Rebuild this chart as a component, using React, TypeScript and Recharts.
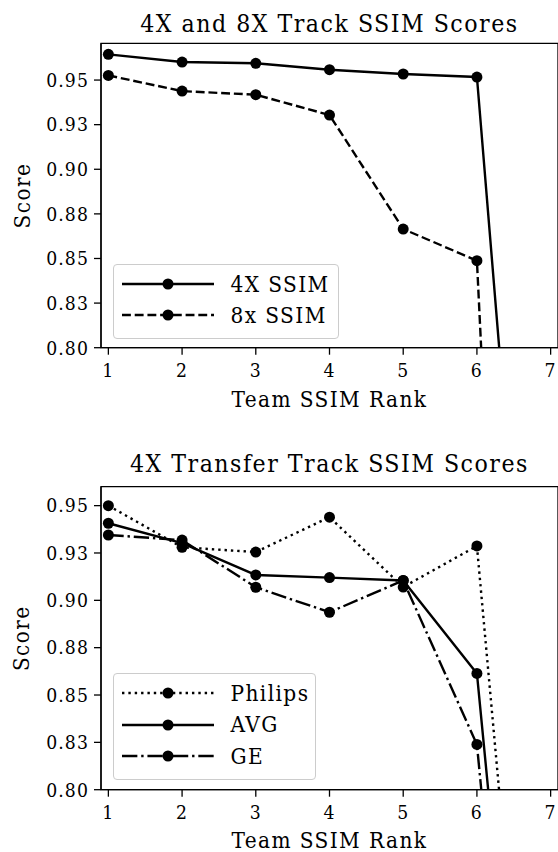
import React from 'react';
import { LineChart, Line, XAxis, YAxis, Legend, ReferenceArea } from 'recharts';

// team rank on the x axis (7th team falls far below the plotted range)
const ranks = [1, 2, 3, 4, 5, 6, 7];
const xTicks = [1, 2, 3, 4, 5, 6, 7];
const yTicks = [0.8, 0.825, 0.85, 0.875, 0.9, 0.925, 0.95];
const yTickLabels = ['0.80', '0.83', '0.85', '0.88', '0.90', '0.93', '0.95'];

// top panel
const ssim4x = [0.9644, 0.9601, 0.9594, 0.9558, 0.9534, 0.9517, 0.45];
const ssim8x = [0.9526, 0.9438, 0.9418, 0.9304, 0.8665, 0.8488, 0.0];

// bottom panel
const philips = [0.95, 0.928, 0.9255, 0.9439, 0.907, 0.9287, 0.5];
const avg = [0.9407, 0.9302, 0.9134, 0.912, 0.9105, 0.8614, 0.46];
const ge = [0.9345, 0.9318, 0.9069, 0.8937, 0.9105, 0.8239, 0.42];

const topData = ranks.map((r, i) => ({ rank: r, s4: ssim4x[i], s8: ssim8x[i] }));
const bottomData = ranks.map((r, i) => ({ rank: r, philips: philips[i], avg: avg[i], ge: ge[i] }));

// only the condensed cut of DejaVu Serif is installed, letter spacing widens it back
const FONT = '"DejaVu Serif Condensed", "Noto Serif", serif';
const TITLE = 24.6;
const TITLE_LS = 1.5;
const BIG = 22.4;
const BIG_LS = 1.4;
const SMALL = 19.2;
const SMALL_LS = 1.1;

const LW = 2.4;
const dashed = `${3.7 * LW} ${1.6 * LW}`;
const dotted = `${1 * LW} ${1.65 * LW}`;
const dashDot = `${6.4 * LW} ${1.6 * LW} ${1 * LW} ${1.6 * LW}`;

const dot = { r: 5.5, fill: '#000', stroke: '#000', strokeWidth: 0 };

type Entry = { name: string; dash?: string };

const makeLegend = (entries: Entry[]) => () => (
  <div
    style={{
      border: '1px solid #cccccc',
      borderRadius: 4,
      background: 'rgba(255,255,255,0.8)',
      padding: '3px 0 7px 0',
      fontFamily: FONT,
      fontSize: BIG,
      letterSpacing: BIG_LS,
      color: '#000',
      boxSizing: 'border-box',
    }}
  >
    {entries.map((e) => (
      <div key={e.name} style={{ display: 'flex', alignItems: 'center', height: 31.5 }}>
        <svg width={108} height={20} style={{ flex: 'none' }}>
          <line x1={8} x2={100} y1={10} y2={10} stroke="#000" strokeWidth={LW} strokeDasharray={e.dash} />
          <circle cx={54} cy={10} r={5.5} fill="#000" />
        </svg>
        <span style={{ marginLeft: 9, lineHeight: 1 }}>{e.name}</span>
      </div>
    ))}
  </div>
);

const tickStyle = { fontFamily: FONT, fontSize: SMALL, fill: '#000', letterSpacing: SMALL_LS };

const XLabel = ({ viewBox, baseline }: any) => (
  <text
    x={viewBox.x + viewBox.width / 2}
    y={baseline}
    textAnchor="middle"
    fontFamily={FONT}
    fontSize={BIG}
    letterSpacing={BIG_LS}
    fill="#000"
  >
    Team SSIM Rank
  </text>
);

const YLabel = ({ viewBox }: any) => {
  const cy = viewBox.y + viewBox.height / 2;
  return (
    <text
      x={21.5}
      y={cy}
      transform={`rotate(-90, 21.5, ${cy})`}
      textAnchor="middle"
      dominantBaseline="central"
      fontFamily={FONT}
      fontSize={BIG}
      letterSpacing={BIG_LS}
      fill="#000"
    >
      Score
    </text>
  );
};

export default function App() {
  return (
    <div style={{ position: 'absolute', left: 0, top: 0, width: 558, height: 852, background: '#fff', overflow: 'hidden' }}>
      <div style={{ position: 'absolute', left: 0, top: 0 }}>
        <LineChart width={558} height={440} data={topData} margin={{ top: 43.3, right: 0, left: 0, bottom: 0 }}>
          <XAxis
            dataKey="rank"
            type="number"
            domain={[0.9, 7.1]}
            ticks={xTicks}
            allowDataOverflow
            height={92.3}
            tick={tickStyle}
            tickSize={7}
            tickMargin={9}
            stroke="#000"
            strokeWidth={1.3}
            label={(p: any) => <XLabel {...p} baseline={406.5} />}
          />
          <YAxis
            type="number"
            domain={[0.8, 0.9706]}
            ticks={yTicks}
            allowDataOverflow
            width={101}
            tick={tickStyle}
            tickSize={7}
            tickMargin={5}
            tickFormatter={(v: number) => yTickLabels[yTicks.indexOf(v)]}
            stroke="#000"
            strokeWidth={1.3}
            label={(p: any) => <YLabel {...p} />}
          />
          <ReferenceArea x1={0.9} x2={7.1} y1={0.8} y2={0.9706} fill="none" stroke="#000" strokeWidth={1.3} />
          <Line dataKey="s4" name="4X SSIM" stroke="#000" strokeWidth={LW} dot={dot} isAnimationActive={false} />
          <Line dataKey="s8" name="8x SSIM" stroke="#000" strokeWidth={LW} strokeDasharray={dashed} dot={dot} isAnimationActive={false} />
          <Legend
            layout="horizontal"
            verticalAlign="middle"
            align="center"
            wrapperStyle={{ left: 112.5, top: 264, width: 226 }}
            content={makeLegend([{ name: '4X SSIM' }, { name: '8x SSIM', dash: dashed }])}
          />
        </LineChart>
      </div>
      <div style={{ position: 'absolute', left: 0, top: 440 }}>
        <LineChart width={558} height={412} data={bottomData} margin={{ top: 46.7, right: 0, left: 0, bottom: 0 }}>
          <XAxis
            dataKey="rank"
            type="number"
            domain={[0.9, 7.1]}
            ticks={xTicks}
            allowDataOverflow
            height={62.3}
            tick={tickStyle}
            tickSize={7}
            tickMargin={9}
            stroke="#000"
            strokeWidth={1.3}
            label={(p: any) => <XLabel {...p} baseline={407.5} />}
          />
          <YAxis
            type="number"
            domain={[0.8, 0.96]}
            ticks={yTicks}
            allowDataOverflow
            width={101}
            tick={tickStyle}
            tickSize={7}
            tickMargin={5}
            tickFormatter={(v: number) => yTickLabels[yTicks.indexOf(v)]}
            stroke="#000"
            strokeWidth={1.3}
            label={(p: any) => <YLabel {...p} />}
          />
          <ReferenceArea x1={0.9} x2={7.1} y1={0.8} y2={0.96} fill="none" stroke="#000" strokeWidth={1.3} />
          <Line dataKey="philips" name="Philips" stroke="#000" strokeWidth={LW} strokeDasharray={dotted} dot={dot} isAnimationActive={false} />
          <Line dataKey="avg" name="AVG" stroke="#000" strokeWidth={LW} dot={dot} isAnimationActive={false} />
          <Line dataKey="ge" name="GE" stroke="#000" strokeWidth={LW} strokeDasharray={dashDot} dot={dot} isAnimationActive={false} />
          <Legend
            layout="horizontal"
            verticalAlign="middle"
            align="center"
            wrapperStyle={{ left: 112.5, top: 233.3, width: 203 }}
            content={makeLegend([{ name: 'Philips', dash: dotted }, { name: 'AVG' }, { name: 'GE', dash: dashDot }])}
          />
        </LineChart>
      </div>
      <svg width={558} height={852} style={{ position: 'absolute', left: 0, top: 0, pointerEvents: 'none' }}>
        <text x={329.4} y={31.7} textAnchor="middle" fontFamily={FONT} fontSize={TITLE} letterSpacing={TITLE_LS} fill="#000">
          4X and 8X Track SSIM Scores
        </text>
        <text x={329.4} y={472} textAnchor="middle" fontFamily={FONT} fontSize={TITLE} letterSpacing={TITLE_LS} fill="#000">
          4X Transfer Track SSIM Scores
        </text>
      </svg>
    </div>
  );
}
